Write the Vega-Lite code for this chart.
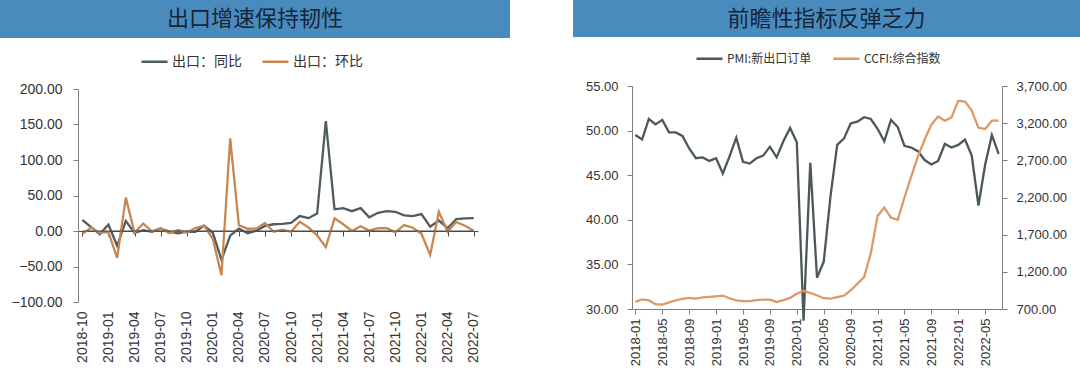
{
  "$schema": "https://vega.github.io/schema/vega-lite/v6.json",
  "padding": 0,
  "background": "#ffffff",
  "config": {
    "view": {"stroke": null},
    "font": "Liberation Sans",
    "axis": {"grid": false, "domainColor": "#7f7f7f", "tickColor": "#7f7f7f", "labelColor": "#333333", "labelFont": "Liberation Sans", "title": null},
    "legend": {"labelFont": "Noto Sans CJK SC", "labelColor": "#333333", "symbolType": "stroke", "symbolSize": 680, "symbolStrokeWidth": 2.5, "direction": "horizontal", "columnPadding": 15, "labelOffset": 3}
  },
  "spacing": 63,
  "resolve": {"scale": {"color": "independent"}, "legend": {"color": "independent"}},
  "hconcat": [
    {
      "spacing": 9,
      "resolve": {"scale": {"color": "independent"}, "legend": {"color": "independent"}},
      "vconcat": [
        {
          "width": 510,
          "height": 38,
          "view": {"fill": "#4a8bbd", "stroke": null},
          "data": {"values": [{"t": "出口增速保持韧性"}]},
          "mark": {"type": "text", "fontSize": 22, "color": "#15253a", "font": "Noto Sans CJK SC", "align": "center", "baseline": "middle"},
          "encoding": {"text": {"field": "t"}}
        },
        {
          "width": 478,
          "height": 213,
          "resolve": {"axis": {"x": "independent"}},
          "layer": [
            {
              "data": {"values": [
                {"month": "2018-10", "series": "出口：同比", "value": 15.6}, {"month": "2018-10", "series": "出口：环比", "value": -4.1},
                {"month": "2018-11", "series": "出口：同比", "value": 5.4}, {"month": "2018-11", "series": "出口：环比", "value": 4.6},
                {"month": "2018-12", "series": "出口：同比", "value": -4.4}, {"month": "2018-12", "series": "出口：环比", "value": -2.7},
                {"month": "2019-01", "series": "出口：同比", "value": 9.1}, {"month": "2019-01", "series": "出口：环比", "value": -1.7},
                {"month": "2019-02", "series": "出口：同比", "value": -20.8}, {"month": "2019-02", "series": "出口：环比", "value": -37.9},
                {"month": "2019-03", "series": "出口：同比", "value": 14.2}, {"month": "2019-03", "series": "出口：环比", "value": 47.0},
                {"month": "2019-04", "series": "出口：同比", "value": -2.7}, {"month": "2019-04", "series": "出口：环比", "value": -2.6},
                {"month": "2019-05", "series": "出口：同比", "value": 1.1}, {"month": "2019-05", "series": "出口：环比", "value": 10.5},
                {"month": "2019-06", "series": "出口：同比", "value": -1.3}, {"month": "2019-06", "series": "出口：环比", "value": -0.4},
                {"month": "2019-07", "series": "出口：同比", "value": 3.3}, {"month": "2019-07", "series": "出口：环比", "value": 4.1},
                {"month": "2019-08", "series": "出口：同比", "value": -1.0}, {"month": "2019-08", "series": "出口：环比", "value": -3.1},
                {"month": "2019-09", "series": "出口：同比", "value": -3.2}, {"month": "2019-09", "series": "出口：环比", "value": 1.5},
                {"month": "2019-10", "series": "出口：同比", "value": -0.9}, {"month": "2019-10", "series": "出口：环比", "value": -2.4},
                {"month": "2019-11", "series": "出口：同比", "value": -1.1}, {"month": "2019-11", "series": "出口：环比", "value": 4.2},
                {"month": "2019-12", "series": "出口：同比", "value": 7.6}, {"month": "2019-12", "series": "出口：环比", "value": 7.5},
                {"month": "2020-01", "series": "出口：同比", "value": -2.5}, {"month": "2020-01", "series": "出口：环比", "value": -11.0},
                {"month": "2020-02", "series": "出口：同比", "value": -40.6}, {"month": "2020-02", "series": "出口：环比", "value": -62.2},
                {"month": "2020-03", "series": "出口：同比", "value": -6.6}, {"month": "2020-03", "series": "出口：环比", "value": 130.5},
                {"month": "2020-04", "series": "出口：同比", "value": 3.5}, {"month": "2020-04", "series": "出口：环比", "value": 8.2},
                {"month": "2020-05", "series": "出口：同比", "value": -3.3}, {"month": "2020-05", "series": "出口：环比", "value": 3.2},
                {"month": "2020-06", "series": "出口：同比", "value": 0.5}, {"month": "2020-06", "series": "出口：环比", "value": 3.3},
                {"month": "2020-07", "series": "出口：同比", "value": 7.2}, {"month": "2020-07", "series": "出口：环比", "value": 11.2},
                {"month": "2020-08", "series": "出口：同比", "value": 9.5}, {"month": "2020-08", "series": "出口：环比", "value": -1.0},
                {"month": "2020-09", "series": "出口：同比", "value": 9.9}, {"month": "2020-09", "series": "出口：环比", "value": 1.9},
                {"month": "2020-10", "series": "出口：同比", "value": 11.4}, {"month": "2020-10", "series": "出口：环比", "value": -1.1},
                {"month": "2020-11", "series": "出口：同比", "value": 21.1}, {"month": "2020-11", "series": "出口：环比", "value": 13.0},
                {"month": "2020-12", "series": "出口：同比", "value": 18.1}, {"month": "2020-12", "series": "出口：环比", "value": 5.1},
                {"month": "2021-01", "series": "出口：同比", "value": 24.5}, {"month": "2021-01", "series": "出口：环比", "value": -6.3},
                {"month": "2021-02", "series": "出口：同比", "value": 154.9}, {"month": "2021-02", "series": "出口：环比", "value": -22.5},
                {"month": "2021-03", "series": "出口：同比", "value": 30.6}, {"month": "2021-03", "series": "出口：环比", "value": 17.8},
                {"month": "2021-04", "series": "出口：同比", "value": 32.3}, {"month": "2021-04", "series": "出口：环比", "value": 9.5},
                {"month": "2021-05", "series": "出口：同比", "value": 27.9}, {"month": "2021-05", "series": "出口：环比", "value": 0.0},
                {"month": "2021-06", "series": "出口：同比", "value": 32.2}, {"month": "2021-06", "series": "出口：环比", "value": 6.6},
                {"month": "2021-07", "series": "出口：同比", "value": 19.3}, {"month": "2021-07", "series": "出口：环比", "value": 0.5},
                {"month": "2021-08", "series": "出口：同比", "value": 25.6}, {"month": "2021-08", "series": "出口：环比", "value": 4.1},
                {"month": "2021-09", "series": "出口：同比", "value": 28.1}, {"month": "2021-09", "series": "出口：环比", "value": 3.9},
                {"month": "2021-10", "series": "出口：同比", "value": 27.1}, {"month": "2021-10", "series": "出口：环比", "value": -1.8},
                {"month": "2021-11", "series": "出口：同比", "value": 22.0}, {"month": "2021-11", "series": "出口：环比", "value": 8.4},
                {"month": "2021-12", "series": "出口：同比", "value": 20.9}, {"month": "2021-12", "series": "出口：环比", "value": 4.6},
                {"month": "2022-01", "series": "出口：同比", "value": 23.9}, {"month": "2022-01", "series": "出口：环比", "value": -3.9},
                {"month": "2022-02", "series": "出口：同比", "value": 6.2}, {"month": "2022-02", "series": "出口：环比", "value": -33.6},
                {"month": "2022-03", "series": "出口：同比", "value": 14.7}, {"month": "2022-03", "series": "出口：环比", "value": 27.0},
                {"month": "2022-04", "series": "出口：同比", "value": 3.9}, {"month": "2022-04", "series": "出口：环比", "value": -0.9},
                {"month": "2022-05", "series": "出口：同比", "value": 16.9}, {"month": "2022-05", "series": "出口：环比", "value": 12.6},
                {"month": "2022-06", "series": "出口：同比", "value": 17.9}, {"month": "2022-06", "series": "出口：环比", "value": 7.5},
                {"month": "2022-07", "series": "出口：同比", "value": 18.0}, {"month": "2022-07", "series": "出口：环比", "value": 0.5}
              ]},
              "mark": {"type": "line", "strokeWidth": 2.3},
              "encoding": {
                "x": {"field": "month", "type": "ordinal", "scale": {"type": "point", "padding": 0.5, "range": [78, 478]},
                  "axis": {"values": ["2018-10","2019-01","2019-04","2019-07","2019-10","2020-01","2020-04","2020-07","2020-10","2021-01","2021-04","2021-07","2021-10","2022-01","2022-04","2022-07"],
                    "labelAngle": -90, "domain": false, "ticks": false, "labelFontSize": 14, "labelPadding": 9, "title": null}},
                "y": {"field": "value", "type": "quantitative", "scale": {"domain": [-100, 200], "nice": false, "zero": false},
                  "axis": {"values": [-100, -50, 0, 50, 100, 150, 200], "format": ".2f", "labelFontSize": 14, "tickSize": 5, "labelPadding": 11, "offset": -78, "title": null}},
                "color": {"field": "series", "type": "nominal",
                  "scale": {"domain": ["出口：同比", "出口：环比"], "range": ["#4e5b5f", "#c8874f"]},
                  "legend": {"orient": "none", "legendX": 140, "legendY": -42, "title": null, "labelFontSize": 14}}
              }
            },
            {
              "data": {"values": [{"a": "2018-10", "b": "2022-07"}]},
              "mark": {"type": "rule", "color": "#4a4a4a", "strokeWidth": 1},
              "encoding": {
                "x": {"field": "a", "type": "ordinal",
                  "axis": {"values": ["2018-10","2019-01","2019-04","2019-07","2019-10","2020-01","2020-04","2020-07","2020-10","2021-01","2021-04","2021-07","2021-10","2022-01","2022-04","2022-07"],
                    "orient": "bottom", "offset": -71, "labels": false, "domain": true, "domainColor": "#4a4a4a", "ticks": true, "tickSize": 5, "tickColor": "#4a4a4a", "title": null}},
                "x2": {"field": "b"},
                "y": {"datum": 0, "type": "quantitative",
                  "axis": {"values": [-100, -50, 0, 50, 100, 150, 200], "format": ".2f", "labelFontSize": 14, "tickSize": 5, "labelPadding": 11, "offset": -78, "title": null}}
              }
            }
          ]
        }
      ]
    },
    {
      "spacing": 7,
      "resolve": {"scale": {"color": "independent"}, "legend": {"color": "independent"}},
      "vconcat": [
        {
          "width": 507,
          "height": 37,
          "view": {"fill": "#4a8bbd", "stroke": null},
          "data": {"values": [{"t": "前瞻性指标反弹乏力"}]},
          "mark": {"type": "text", "fontSize": 22, "color": "#15253a", "font": "Noto Sans CJK SC", "align": "center", "baseline": "middle"},
          "encoding": {"text": {"field": "t"}}
        },
        {
          "width": 429,
          "height": 223,
          "data": {"values": [
            {"month": "2018-01", "pmi": 49.5, "ccfi": 795}, {"month": "2018-02", "pmi": 49.0, "ccfi": 830},
            {"month": "2018-03", "pmi": 51.3, "ccfi": 815}, {"month": "2018-04", "pmi": 50.7, "ccfi": 765},
            {"month": "2018-05", "pmi": 51.2, "ccfi": 760}, {"month": "2018-06", "pmi": 49.8, "ccfi": 790},
            {"month": "2018-07", "pmi": 49.8, "ccfi": 815}, {"month": "2018-08", "pmi": 49.4, "ccfi": 835},
            {"month": "2018-09", "pmi": 48.0, "ccfi": 850}, {"month": "2018-10", "pmi": 46.9, "ccfi": 840},
            {"month": "2018-11", "pmi": 47.0, "ccfi": 855}, {"month": "2018-12", "pmi": 46.6, "ccfi": 862},
            {"month": "2019-01", "pmi": 46.9, "ccfi": 870}, {"month": "2019-02", "pmi": 45.2, "ccfi": 880},
            {"month": "2019-03", "pmi": 47.1, "ccfi": 845}, {"month": "2019-04", "pmi": 49.2, "ccfi": 815},
            {"month": "2019-05", "pmi": 46.5, "ccfi": 805}, {"month": "2019-06", "pmi": 46.3, "ccfi": 805},
            {"month": "2019-07", "pmi": 46.9, "ccfi": 820}, {"month": "2019-08", "pmi": 47.2, "ccfi": 826},
            {"month": "2019-09", "pmi": 48.2, "ccfi": 826}, {"month": "2019-10", "pmi": 47.0, "ccfi": 795},
            {"month": "2019-11", "pmi": 48.8, "ccfi": 820}, {"month": "2019-12", "pmi": 50.3, "ccfi": 850},
            {"month": "2020-01", "pmi": 48.7, "ccfi": 905}, {"month": "2020-02", "pmi": 28.7, "ccfi": 945},
            {"month": "2020-03", "pmi": 46.4, "ccfi": 915}, {"month": "2020-04", "pmi": 33.5, "ccfi": 885},
            {"month": "2020-05", "pmi": 35.3, "ccfi": 845}, {"month": "2020-06", "pmi": 42.6, "ccfi": 840},
            {"month": "2020-07", "pmi": 48.4, "ccfi": 860}, {"month": "2020-08", "pmi": 49.1, "ccfi": 880},
            {"month": "2020-09", "pmi": 50.8, "ccfi": 950}, {"month": "2020-10", "pmi": 51.0, "ccfi": 1040},
            {"month": "2020-11", "pmi": 51.5, "ccfi": 1130}, {"month": "2020-12", "pmi": 51.3, "ccfi": 1450},
            {"month": "2021-01", "pmi": 50.2, "ccfi": 1950}, {"month": "2021-02", "pmi": 48.8, "ccfi": 2063},
            {"month": "2021-03", "pmi": 51.2, "ccfi": 1928}, {"month": "2021-04", "pmi": 50.4, "ccfi": 1900},
            {"month": "2021-05", "pmi": 48.3, "ccfi": 2200}, {"month": "2021-06", "pmi": 48.1, "ccfi": 2480},
            {"month": "2021-07", "pmi": 47.7, "ccfi": 2750}, {"month": "2021-08", "pmi": 46.7, "ccfi": 2980},
            {"month": "2021-09", "pmi": 46.2, "ccfi": 3180}, {"month": "2021-10", "pmi": 46.6, "ccfi": 3290},
            {"month": "2021-11", "pmi": 48.5, "ccfi": 3233}, {"month": "2021-12", "pmi": 48.1, "ccfi": 3278},
            {"month": "2022-01", "pmi": 48.4, "ccfi": 3503}, {"month": "2022-02", "pmi": 49.0, "ccfi": 3490},
            {"month": "2022-03", "pmi": 47.2, "ccfi": 3370}, {"month": "2022-04", "pmi": 41.6, "ccfi": 3140},
            {"month": "2022-05", "pmi": 46.2, "ccfi": 3121}, {"month": "2022-06", "pmi": 49.5, "ccfi": 3233},
            {"month": "2022-07", "pmi": 47.4, "ccfi": 3233}
          ]},
          "resolve": {"scale": {"y": "independent"}},
          "encoding": {
            "x": {"field": "month", "type": "ordinal", "scale": {"type": "point", "padding": 0.5, "range": [59, 429]},
              "axis": {"values": ["2018-01","2018-05","2018-09","2019-01","2019-05","2019-09","2020-01","2020-05","2020-09","2021-01","2021-05","2021-09","2022-01","2022-05"],
                "labelAngle": -90, "labelFontSize": 13, "tickSize": 5, "labelPadding": 4, "title": null}}
          },
          "layer": [
            {
              "mark": {"type": "line", "strokeWidth": 2.3},
              "encoding": {
                "y": {"field": "pmi", "type": "quantitative", "scale": {"domain": [30, 55], "nice": false, "zero": false},
                  "axis": {"orient": "left", "values": [30, 35, 40, 45, 50, 55], "format": ".2f", "labelFontSize": 13, "tickSize": 5, "labelPadding": 9, "offset": -59, "title": null}},
                "color": {"datum": "PMI:新出口订单", "type": "nominal",
                  "scale": {"domain": ["PMI:新出口订单", "CCFI:综合指数"], "range": ["#4b5759", "#dd9a66"]},
                  "legend": {"orient": "none", "legendX": 122, "legendY": -42, "title": null, "labelFontSize": 12, "columnPadding": 16}}
              }
            },
            {
              "mark": {"type": "line", "strokeWidth": 2.3},
              "encoding": {
                "y": {"field": "ccfi", "type": "quantitative", "scale": {"domain": [700, 3700], "nice": false, "zero": false},
                  "axis": {"orient": "right", "values": [700, 1200, 1700, 2200, 2700, 3200, 3700], "format": ",.2f", "labelFontSize": 13, "tickSize": 5, "labelPadding": 9, "title": null}},
                "color": {"datum": "CCFI:综合指数", "type": "nominal"}
              }
            }
          ]
        }
      ]
    }
  ]
}
